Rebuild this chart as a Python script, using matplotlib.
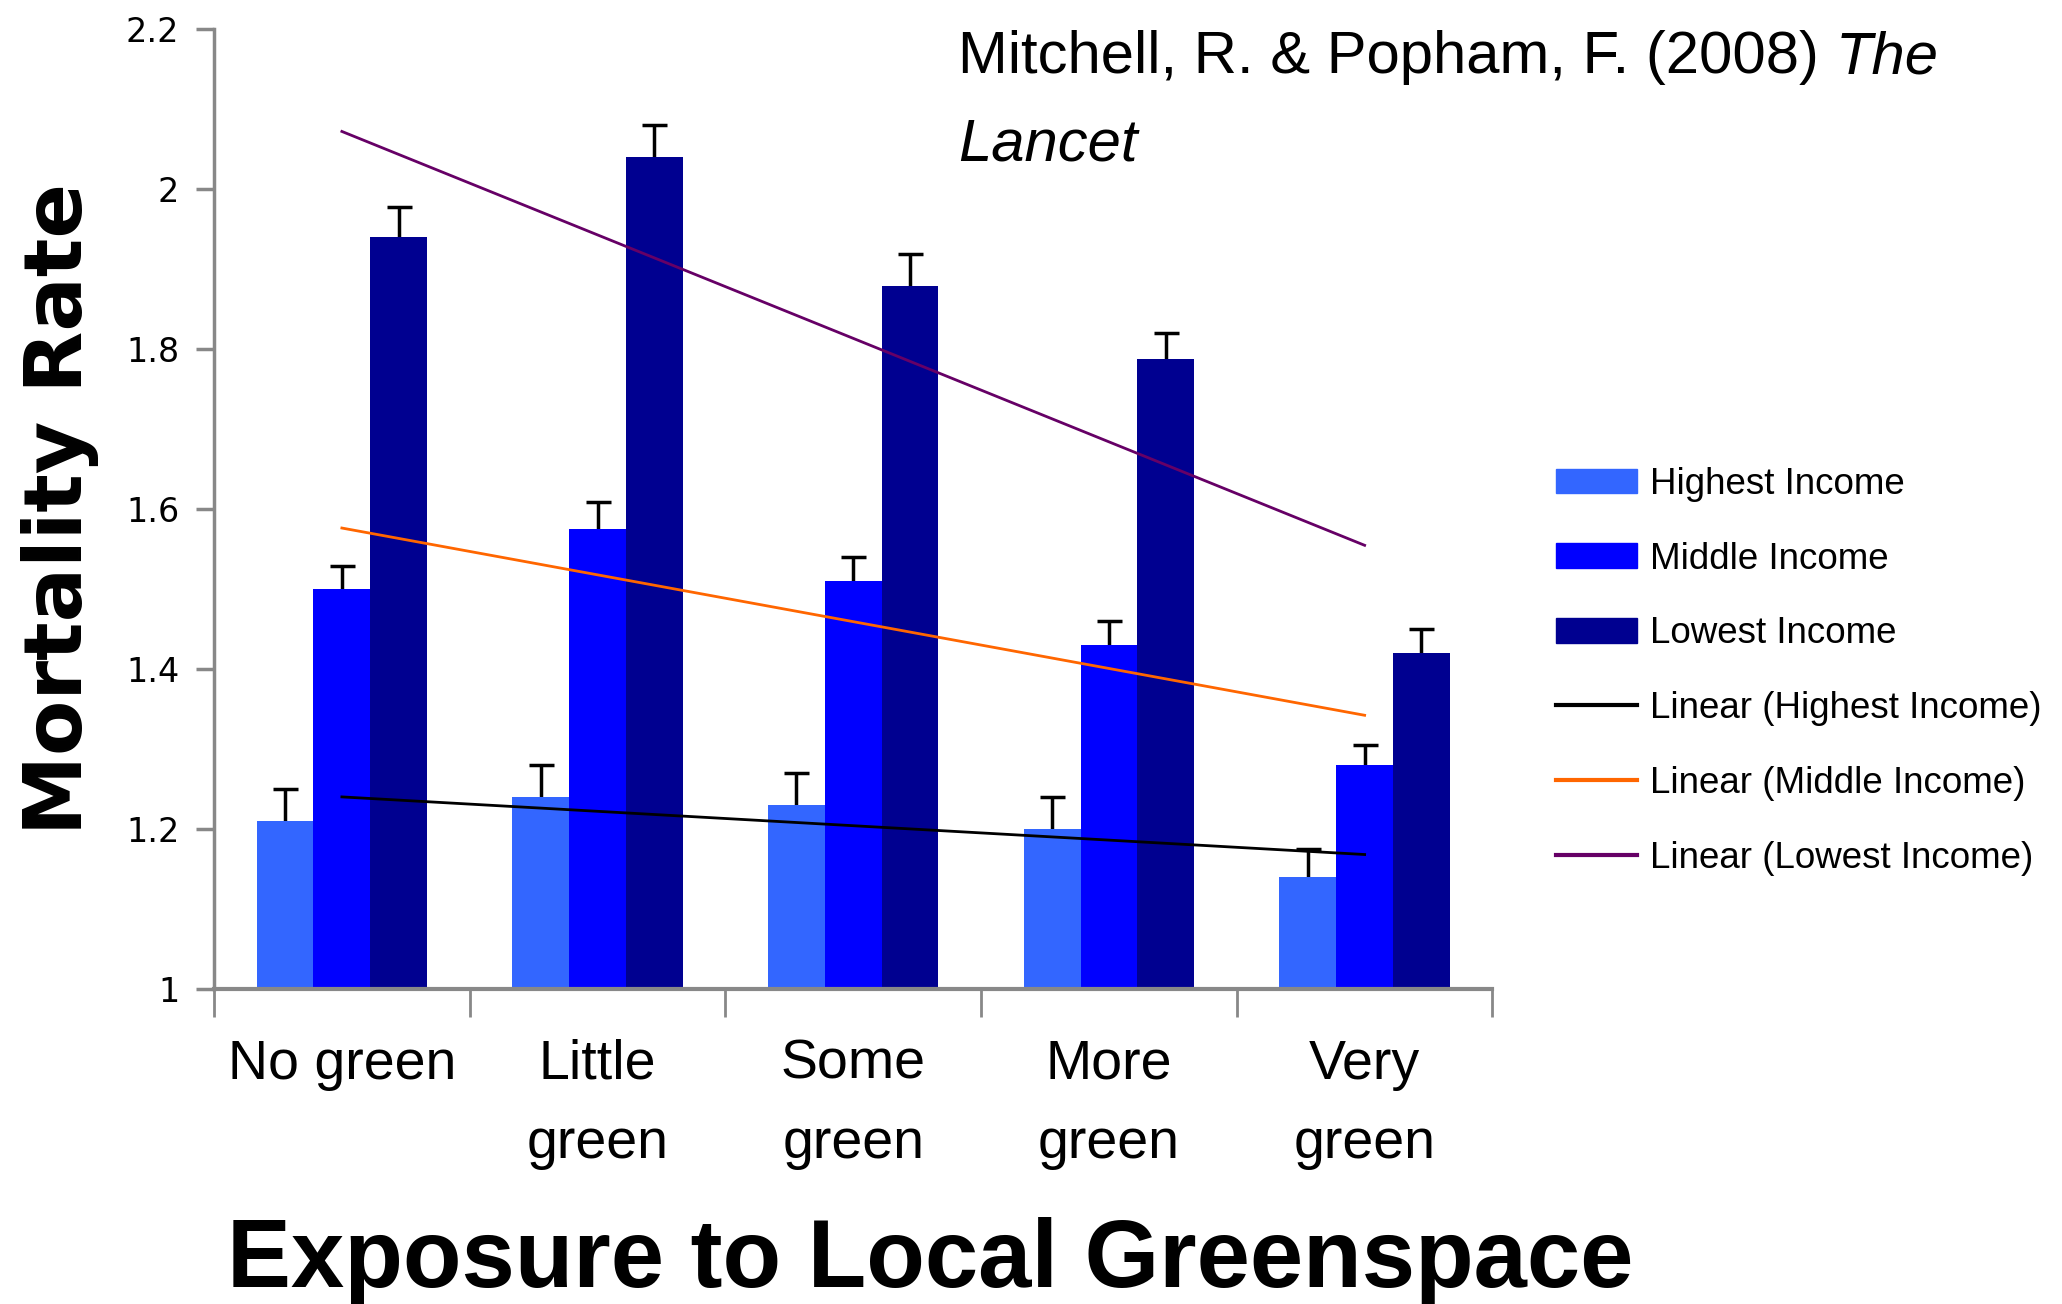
import numpy as np
import matplotlib
matplotlib.use("Agg")
import matplotlib.pyplot as plt
from matplotlib.patches import Patch
from matplotlib.lines import Line2D
from matplotlib.ticker import FuncFormatter

# data
categories = ["No green", "Little\ngreen", "Some\ngreen", "More\ngreen", "Very\ngreen"]
series_names = ["Highest Income", "Middle Income", "Lowest Income"]
highest = [1.21, 1.24, 1.23, 1.20, 1.14]
middle = [1.50, 1.575, 1.51, 1.43, 1.28]
lowest = [1.94, 2.04, 1.878, 1.787, 1.42]
highest_err = [0.04, 0.04, 0.04, 0.04, 0.035]
middle_err = [0.028, 0.033, 0.03, 0.03, 0.025]
lowest_err = [0.037, 0.04, 0.04, 0.033, 0.03]

bar_colors = ["#3366FF", "#0000FF", "#000090"]
trend_colors = ["#000000", "#FF6600", "#660066"]
sans = ["Liberation Sans", "DejaVu Sans"]

fig = plt.figure(figsize=(20.62, 13.04), dpi=100)
ax = fig.add_axes([0.1038, 0.2416, 0.6200, 0.7364])

x = np.arange(1, 6)
w = 0.222
vals = [highest, middle, lowest]
errs = [highest_err, middle_err, lowest_err]
for i in range(3):
    ax.bar(x + (i - 1) * w, vals[i], w, color=bar_colors[i], zorder=2)
    # lower half sits behind the bar, so only the upper whisker shows
    ax.errorbar(x + (i - 1) * w, vals[i], yerr=errs[i], fmt="none",
                ecolor="black", elinewidth=2.5, capsize=9, capthick=2.5, zorder=1)

# excel style linear trendlines
for i in range(3):
    k, b = np.polyfit(x, vals[i], 1)
    ax.plot(x, k * x + b, color=trend_colors[i], lw=2, zorder=4)

ax.set_xlim(0.5, 5.5)
ax.set_ylim(1, 2.2)
ax.set_yticks([1, 1.2, 1.4, 1.6, 1.8, 2.0, 2.2])
ax.yaxis.set_major_formatter(FuncFormatter(lambda v, p: "%g" % round(v, 1)))
for s in ["top", "right"]:
    ax.spines[s].set_visible(False)
ax.spines["left"].set_color("#888888")
ax.spines["bottom"].set_color("#888888")
ax.spines["left"].set_linewidth(2.5)
ax.spines["bottom"].set_linewidth(3)
ax.tick_params(axis="y", length=13, width=2.5, color="#888888", labelsize=24, pad=12)

ax.set_xticks(x)
ax.set_xticklabels(categories, family=sans, fontsize=40, linespacing=1.68)
ax.set_xticks(np.arange(0.5, 6, 1), minor=True)
ax.tick_params(axis="x", which="major", length=0, pad=36)
ax.tick_params(axis="x", which="minor", length=20, width=2, color="#888888")

fig.text(0.029, 0.61, "Mortality Rate", rotation=90, ha="center", va="center",
         fontsize=58, fontweight="black", family="DejaVu Sans")
fig.text(0.451, 0.032, "Exposure to Local Greenspace", ha="center", va="center",
         fontsize=69, fontweight="bold", family=sans)

t1 = fig.text(0.4646, 0.944, "Mitchell, R. & Popham, F. (2008) ", fontsize=43,
              family=sans, va="baseline")
fig.text(0.4646, 0.877, "Lancet", fontsize=43, style="italic", family=sans, va="baseline")
ax.annotate("The", xy=(1, 0), xycoords=t1, ha="left", va="bottom",
            fontsize=43, style="italic", family=sans, annotation_clip=False)

handles = [Patch(color=c) for c in bar_colors] + [Line2D([], [], color=c, lw=3) for c in trend_colors]
labels = series_names + ["Linear (%s)" % n for n in series_names]
fig.legend(handles, labels, loc="upper left", bbox_to_anchor=(0.7545, 0.642),
           frameon=False, labelspacing=1.08, handlelength=2.2,
           handletextpad=0.36, handleheight=0.65, borderpad=0, borderaxespad=0,
           prop={"family": sans, "size": 26.5})

fig.savefig("out.png", dpi=100)
